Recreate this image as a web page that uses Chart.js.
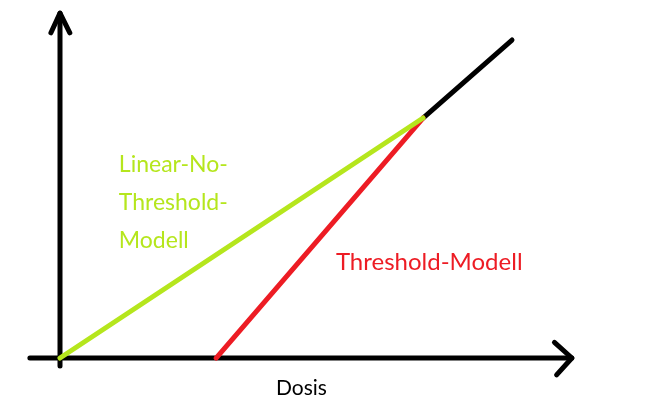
<!DOCTYPE html>
<html>
<head>
<meta charset="utf-8">
<script src="https://cdn.jsdelivr.net/npm/chart.js@4/dist/chart.umd.min.js"></script>
<style>
    html, body { margin: 0; padding: 0; background: #fff; }
    #wrap { width: 655px; height: 417px; }
</style>
</head>
<body>
<div id="wrap"><canvas id="dose-chart"></canvas></div>
<script>
// Dose (x) and effect (y) values, in arbitrary units
const lntDose = [0, 10];
const lntEffect = [0, 10];
const thresholdDose = [4.3, 10];
const thresholdEffect = [0, 10];
const highDose = [10, 12.45];
const highEffect = [10, 13.25];

// Axes with arrow heads
const yAxisDose = [0, 0];
const yAxisEffect = [-0.33, 14.37];
const yArrowDose = [-0.25, 0, 0.27];
const yArrowEffect = [13.55, 14.37, 13.55];
const xAxisDose = [-0.83, 14.1];
const xAxisEffect = [0, 0];
const xArrowDose = [13.62, 14.1, 13.68];
const xArrowEffect = [0.65, 0, -0.7];

// Text labels
const labelTexts = ['Linear-No-', 'Threshold-', 'Modell', 'Threshold-Modell', 'Dosis'];
const labelDose = [1.62, 1.62, 1.62, 7.6, 5.95];
const labelEffect = [8.08, 6.46, 4.9, 4.0, -1.25];

const GREEN = '#b5e61d';
const RED = '#ed1c24';
const BLACK = '#000000';

const toPoints = (xs, ys) => xs.map((x, i) => ({ x: x, y: ys[i] }));

const lineSet = (label, xs, ys, color) => ({
    label: label,
    data: toPoints(xs, ys),
    borderColor: color,
    borderWidth: 5,
    borderCapStyle: 'round',
    borderJoinStyle: 'round',
    showLine: true,
    pointRadius: 0,
    tension: 0
});

const labelColors = [GREEN, GREEN, GREEN, RED, BLACK];
const labelSizes = [23, 23, 23, 24, 21];

// Draws the free text labels at data coordinates
const textLabels = {
    id: 'textLabels',
    afterDatasetsDraw(chart) {
        const ctx = chart.ctx;
        const xs = chart.scales.x;
        const ys = chart.scales.y;
        ctx.save();
        ctx.textBaseline = 'middle';
        ctx.textAlign = 'left';
        labelTexts.forEach((t, i) => {
            ctx.font = labelSizes[i] + "px 'Lato', sans-serif";
            ctx.fillStyle = labelColors[i];
            ctx.fillText(t, xs.getPixelForValue(labelDose[i]), ys.getPixelForValue(labelEffect[i]));
        });
        ctx.restore();
    }
};

const doseChart = new Chart(document.getElementById('dose-chart').getContext('2d'), {
    type: 'scatter',
    data: {
        datasets: [
            lineSet('Linear-No-Threshold-Modell', lntDose, lntEffect, GREEN),
            lineSet('Threshold-Modell', thresholdDose, thresholdEffect, RED),
            lineSet('High dose', highDose, highEffect, BLACK),
            lineSet('y axis', yAxisDose, yAxisEffect, BLACK),
            lineSet('y arrow', yArrowDose, yArrowEffect, BLACK),
            lineSet('x axis', xAxisDose, xAxisEffect, BLACK),
            lineSet('x arrow', xArrowDose, xArrowEffect, BLACK)
        ]
    },
    options: {
        responsive: true,
        maintainAspectRatio: false,
        animation: false,
        layout: { padding: 0 },
        plugins: {
            legend: { display: false },
            tooltip: { enabled: false }
        },
        scales: {
            x: { type: 'linear', display: false, min: -1.653, max: 16.39 },
            y: { type: 'linear', display: false, min: -2.458, max: 14.917 }
        }
    },
    plugins: [textLabels]
});
</script>
</body>
</html>
